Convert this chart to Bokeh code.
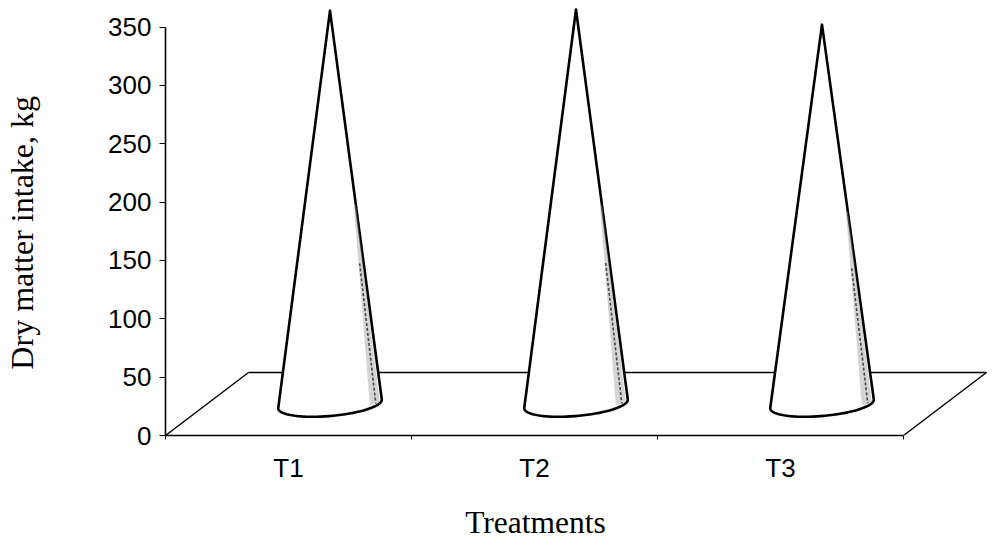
import numpy as np
from bokeh.plotting import figure
from bokeh.layouts import row, column
from bokeh.models import Range1d, FixedTicker
from bokeh.core.properties import value
from bokeh.embed import file_html
from bokeh.resources import INLINE

# ---- data ----
categories = ["T1", "T2", "T3"]
dmi_values = [337, 338, 325]          # dry matter intake, kg (cone heights)
y_ticks = [0, 50, 100, 150, 200, 250, 300, 350]
x_title = "Treatments"
y_title = "Dry matter intake, kg"

# ---- layout ----
W, H = 992, 540
TITLE_W = 60          # strip holding the y-axis title
TITLE_H = 50          # strip holding the x-axis title
MW, MH = W - TITLE_W, H - TITLE_H
LEFT, RIGHT, TOP, BOTTOM = 105, 2, 5, 55
frame_w = MW - LEFT - RIGHT
frame_h = MH - TOP - BOTTOM
x_px = 246.0                     # pixels per category
y_px = 408.5 / 350.0             # pixels per kg
x_end = frame_w / x_px
y_end = frame_h / y_px
n = len(categories)

DX = 83.0 / x_px                 # 3-D depth offset (data units)
DY = 63.0 / y_px

p = figure(width=MW, height=MH, output_backend="svg", toolbar_location=None,
           x_range=Range1d(0, x_end), y_range=Range1d(0, y_end),
           min_border_left=LEFT, min_border_right=RIGHT,
           min_border_top=TOP, min_border_bottom=BOTTOM)
p.outline_line_color = None
p.grid.visible = False
p.background_fill_color = "white"
p.border_fill_color = "white"

# floor
p.patch([0, n, n + DX, DX], [0, 0, DY, DY], fill_color="white", line_color=None)
p.line([0, DX], [0, DY], line_color="black", line_width=1.4)
p.line([DX, n + DX], [DY, DY], line_color="black", line_width=1.6)
p.line([n + DX, n], [DY, 0], line_color="black", line_width=1.4)

# cones
a_px, b_px, theta = 52.0, 12.0, np.deg2rad(5)
t = np.linspace(0, np.pi, 40)
for i, v in enumerate(dmi_values):
    cx = i + 0.5 + DX / 2
    cy = DY / 2
    ex = a_px * np.cos(t)
    ey = -b_px * np.sin(t)
    rx = ex * np.cos(theta) - ey * np.sin(theta)
    ry = ex * np.sin(theta) + ey * np.cos(theta)
    bx = cx + rx / x_px
    by = cy + ry / y_px
    ax, ay = cx, cy + v
    xs = [ax] + list(bx) + [ax]
    ys = [ay] + list(by) + [ay]
    p.patch(xs, ys, fill_color="white", line_color="black", line_width=2.6,
            line_join="round")
    # shading along the right side
    Rx, Ry = bx[0], by[0]
    f = 0.5
    P1x, P1y = ax + f * (Rx - ax), ay + f * (Ry - ay)
    sx = [P1x - 2.0 / x_px, P1x, Rx - 2.0 / x_px, Rx - 12.0 / x_px]
    sy = [P1y, P1y, Ry - 3.0 / y_px, Ry - 6.0 / y_px]
    p.patch(sx, sy, fill_color="#a0a0a0", fill_alpha=0.45, line_color=None)
    p.line([P1x + (Rx - P1x) * 0.3 - 4.0 / x_px, Rx - 6.0 / x_px],
           [P1y + (Ry - P1y) * 0.3, Ry - 4.0 / y_px],
           line_color="#222222", line_width=1.6, line_alpha=0.8, line_dash="3 2")

# axes
xa = p.xaxis[0]
xa.ticker = FixedTicker(ticks=[i + 0.5 for i in range(n)],
                        minor_ticks=list(range(n + 1)))
xa.major_label_overrides = {i + 0.5: c for i, c in enumerate(categories)}
xa.bounds = (0, n)
xa.major_tick_out = 0
xa.major_tick_in = 0
xa.minor_tick_out = 4
xa.minor_tick_in = 0
xa.axis_line_width = 1.6
xa.major_label_standoff = 13

ya = p.yaxis[0]
ya.ticker = FixedTicker(ticks=y_ticks, minor_ticks=[])
ya.bounds = (0, 350)
ya.major_tick_out = 6
ya.major_tick_in = 0
ya.minor_tick_out = 0
ya.minor_tick_in = 0
ya.axis_line_width = 1.6
ya.major_label_standoff = 8

for ax_ in (xa, ya):
    ax_.major_label_text_font = "Liberation Sans"
    ax_.major_label_text_font_size = "26px"
    ax_.major_label_text_color = "black"
    ax_.axis_line_color = "black"
    ax_.major_tick_line_color = "black"
    ax_.minor_tick_line_color = "black"


def strip(w, h):
    f = figure(width=w, height=h, output_backend="svg", toolbar_location=None,
               x_range=Range1d(0, w), y_range=Range1d(0, h),
               x_axis_location=None, y_axis_location=None, min_border=0)
    f.outline_line_color = None
    f.grid.visible = False
    f.background_fill_color = "white"
    f.border_fill_color = "white"
    return f


# y-axis title strip (left)
ly = strip(TITLE_W, MH)
ly.text(x=[21], y=[MH - 259], text=[y_title], angle=np.pi / 2,
        text_font=value("Liberation Serif"), text_font_size=value("32px"),
        text_align="center", text_baseline="middle", text_color="black")

# x-axis title strip (bottom)
lx = strip(W, TITLE_H)
lx.text(x=[535], y=[TITLE_H - (522 - MH)], text=[x_title],
        text_font=value("Liberation Serif"), text_font_size=value("31.5px"),
        text_align="center", text_baseline="middle", text_color="black")

layout = column(row(ly, p, spacing=0), lx, spacing=0)
open("out.html", "w").write(file_html(layout, INLINE))
